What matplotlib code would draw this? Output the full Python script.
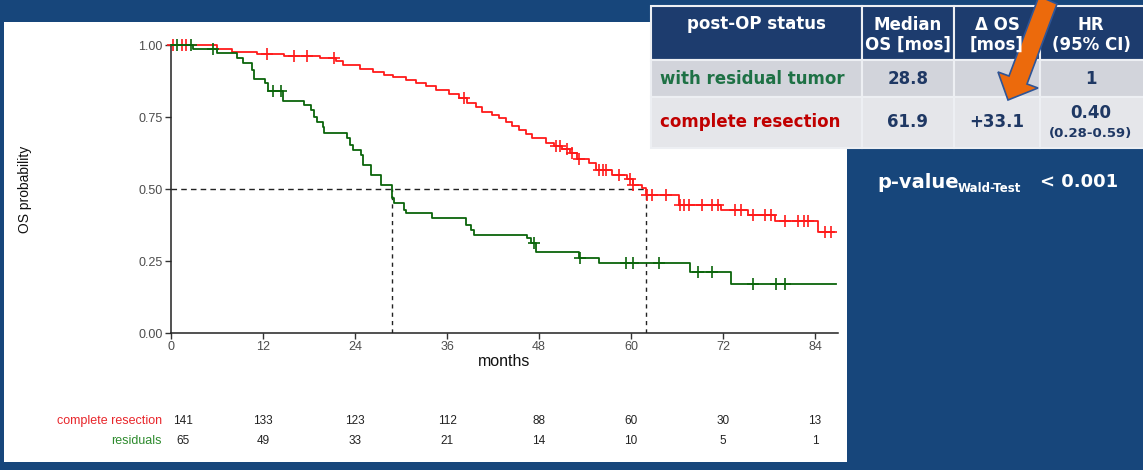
import numpy as np
import matplotlib
matplotlib.use('Agg')
import matplotlib.pyplot as plt
import matplotlib.transforms as mtransforms
from matplotlib.patches import Rectangle, Polygon
from matplotlib import rcParams

rcParams['font.family'] = ['Liberation Sans', 'DejaVu Sans']

# Kaplan-Meier steps (months, OS probability)
complete_t = [0, 6.0, 8.0, 11.2, 14.8, 19.4, 21.5, 22.4, 24.6, 26.3, 27.8, 28.9, 30.7, 32.0,
              33.3, 34.6, 36.3, 37.5, 38.6, 39.8, 40.6, 41.9, 42.8, 43.7, 44.5, 45.4, 46.3,
              47.1, 48.9, 50.0, 51.0, 52.0, 53.0, 54.5, 55.4, 57.5, 59.5, 60.3, 61.4, 61.9,
              66.2, 71.8, 75.3, 78.8, 84.4]
complete_s = [1.000, 0.986, 0.976, 0.969, 0.962, 0.955, 0.945, 0.930, 0.917, 0.905, 0.896,
              0.889, 0.878, 0.868, 0.857, 0.845, 0.830, 0.815, 0.800, 0.785, 0.768, 0.757,
              0.745, 0.733, 0.720, 0.705, 0.690, 0.677, 0.660, 0.648, 0.638, 0.625, 0.605,
              0.590, 0.566, 0.548, 0.533, 0.515, 0.503, 0.479, 0.444, 0.427, 0.410, 0.390,
              0.351]
complete_end = 86.5
complete_cens = [0.3, 1.4, 2.0, 12.5, 16.1, 17.7, 21.3, 38.2, 50.2, 50.8, 51.6, 52.3, 53.2,
                 55.8, 56.3, 56.8, 58.4, 59.9, 60.3, 62.1, 62.7, 64.5, 66.4, 66.9, 67.5, 69.2,
                 70.5, 71.4, 73.6, 74.4, 75.9, 77.5, 78.3, 80.1, 81.8, 82.5, 83.1, 85.3, 86.1]

residual_t = [0, 2.9, 6.0, 8.6, 9.4, 10.5, 10.8, 12.3, 12.6, 14.6, 17.4, 18.3, 18.7, 19.1,
              19.8, 20.0, 22.9, 23.3, 23.7, 24.8, 25.0, 26.1, 27.4, 28.8, 29.1, 30.4, 30.7,
              34.1, 38.5, 39.1, 39.5, 46.4, 46.9, 47.6, 53.2, 55.8, 67.7, 73.1]
residual_s = [1.000, 0.986, 0.972, 0.955, 0.937, 0.913, 0.882, 0.868, 0.840, 0.806, 0.792,
              0.774, 0.750, 0.733, 0.715, 0.694, 0.677, 0.653, 0.635, 0.618, 0.583, 0.549,
              0.515, 0.470, 0.451, 0.427, 0.417, 0.399, 0.375, 0.358, 0.340, 0.330, 0.312,
              0.281, 0.260, 0.243, 0.212, 0.170]
residual_end = 86.7
residual_cens = [0.8, 2.6, 5.5, 13.3, 14.4, 47.3, 53.4, 59.4, 60.3, 63.6, 68.8, 70.5, 75.9,
                 78.9, 80.1]

medians = [28.8, 61.9]

# numbers at risk
risk_months = [0, 12, 24, 36, 48, 60, 72, 84]
risk_complete = [141, 133, 123, 112, 88, 60, 30, 13]
risk_residual = [65, 49, 33, 21, 14, 10, 5, 1]

# summary table
table_header = ['post-OP status', 'Median\nOS [mos]', '\u0394 OS\n[mos]', 'HR\n(95% CI)']
row_residual = ['with residual tumor', '28.8', '', '1']
row_complete = ['complete resection', '61.9', '+33.1', '0.40']
hr_ci = '(0.28-0.59)'

slide_blue = '#17467B'
red = '#FF1A1A'
green = '#0B650B'

fig = plt.figure(figsize=(11.43, 4.70), dpi=100, facecolor=slide_blue)

# background (pixel coordinates)
bg = fig.add_axes([0, 0, 1, 1], zorder=0)
bg.set_xlim(0, 1143)
bg.set_ylim(470, 0)
bg.axis('off')
bg.add_patch(Rectangle((4, 22), 843, 440, facecolor='white', edgecolor='none'))

# KM plot
ax = fig.add_axes([171 / 1143, (470 - 333) / 470, 667 / 1143, 288 / 470], zorder=1)
ax.patch.set_alpha(0)


def step_at(t, s, x):
    idx = np.searchsorted(t, x, side='right') - 1
    return np.asarray(s)[idx]


for t, s, end, cens, col in [(complete_t, complete_s, complete_end, complete_cens, red),
                             (residual_t, residual_s, residual_end, residual_cens, green)]:
    tt = list(t) + [end]
    ss = list(s) + [s[-1]]
    ax.plot(tt, ss, drawstyle='steps-post', color=col, lw=1.3, clip_on=False, zorder=3)
    ax.plot(cens, step_at(t, s, cens), linestyle='none', marker='+', markersize=8.5,
            markeredgewidth=1.2, color=col, clip_on=False, zorder=3)

# median lines
ax.plot([0, max(medians)], [0.5, 0.5], color='#222222', lw=1, dashes=(4, 3), zorder=2)
for m in medians:
    ax.plot([m, m], [0, 0.5], color='#222222', lw=1, dashes=(3, 3), zorder=2)

ax.set_xlim(0, 87)
ax.set_ylim(0, 1)
ax.set_xticks(risk_months)
ax.set_yticks([0, 0.25, 0.5, 0.75, 1.0])
ax.set_yticklabels(['%.2f' % v for v in [0, 0.25, 0.5, 0.75, 1.0]])
ax.tick_params(axis='both', labelsize=9, labelcolor='#4D4D4D', color='#333333',
               length=4, width=1, pad=2)
for side in ['top', 'right']:
    ax.spines[side].set_visible(False)
for side in ['left', 'bottom']:
    ax.spines[side].set_color('#222222')
    ax.spines[side].set_linewidth(1.1)

# overlay for text, table and arrow
ov = fig.add_axes([0, 0, 1, 1], zorder=5)
ov.set_xlim(0, 1143)
ov.set_ylim(470, 0)
ov.patch.set_alpha(0)
ov.axis('off')

ov.text(25, 189, 'OS probability', rotation=90, ha='center', va='center', fontsize=10,
        color='#111111')
ov.text(504, 362, 'months', ha='center', va='center', fontsize=11.5, color='#111111')

# risk table
blend = mtransforms.blended_transform_factory(ax.transData, ov.transData)
for i, m in enumerate(risk_months):
    x = m + 1.6 if m == 0 else m
    ax.text(x, 421, str(risk_complete[i]), transform=blend, ha='center', va='center',
            fontsize=8.5, color='#222222')
    ax.text(x, 441, str(risk_residual[i]), transform=blend, ha='center', va='center',
            fontsize=8.5, color='#222222')
ov.text(162, 421, 'complete resection', ha='right', va='center', fontsize=9, color='#E8262B')
ov.text(162, 441, 'residuals', ha='right', va='center', fontsize=9, color='#2E8B2E')

# summary table
col_x = [651, 862, 954, 1040, 1152]
row_y = [6, 60, 97, 148]
row_col = ['#1D3C6E', '#D2D4DB', '#E5E6EA']
for r in range(3):
    for c in range(4):
        ov.add_patch(Rectangle((col_x[c], row_y[r]), col_x[c + 1] - col_x[c],
                               row_y[r + 1] - row_y[r], facecolor=row_col[r],
                               edgecolor='#EDEFF3', lw=1.5))

tfont = ['DejaVu Sans']
navy = '#1F3864'
ov.text((col_x[0] + col_x[1]) / 2, 24, table_header[0], ha='center', va='center',
        fontsize=12, fontweight='bold', color='white', family=tfont)
for c in range(1, 4):
    ov.text((col_x[c] + col_x[c + 1]) / 2 if c < 3 else 1091, 35, table_header[c],
            ha='center', va='center', fontsize=12, fontweight='bold', color='white',
            family=tfont, linespacing=1.15)

ov.text(660, 79, row_residual[0], ha='left', va='center', fontsize=12, fontweight='bold',
        color='#1E7145', family=tfont)
ov.text(660, 122, row_complete[0], ha='left', va='center', fontsize=12, fontweight='bold',
        color='#C00000', family=tfont)
centers = [(col_x[1] + col_x[2]) / 2, (col_x[2] + col_x[3]) / 2, 1091]
for c in range(1, 4):
    ov.text(centers[c - 1], 79, row_residual[c], ha='center', va='center', fontsize=12,
            fontweight='bold', color=navy, family=tfont)
for c in range(1, 3):
    ov.text(centers[c - 1], 122, row_complete[c], ha='center', va='center', fontsize=12,
            fontweight='bold', color=navy, family=tfont)
ov.text(1091, 113, row_complete[3], ha='center', va='center', fontsize=12,
        fontweight='bold', color=navy, family=tfont)
ov.text(1091, 134, hr_ci, ha='center', va='center', fontsize=9.5, fontweight='bold',
        color=navy, family=tfont)

# p-value
ov.text(877, 183, 'p-value', ha='left', va='center', fontsize=14, fontweight='bold',
        color='white', family=tfont)
ov.text(958, 188, 'Wald-Test', ha='left', va='center', fontsize=8.5, fontweight='bold',
        color='white', family=tfont)
ov.text(1040, 182, '< 0.001', ha='left', va='center', fontsize=13, fontweight='bold',
        color='white', family=tfont)

# orange arrow
arrow = [(1039, -4), (1009, 76), (998, 72), (1008, 100), (1038, 88), (1027, 84), (1057, 4)]
ov.add_patch(Polygon(arrow, closed=True, facecolor='#EC6A0C', edgecolor='#2E5597', lw=1.2,
                     clip_on=False))

fig.savefig('out.png', dpi=100, facecolor=slide_blue)
